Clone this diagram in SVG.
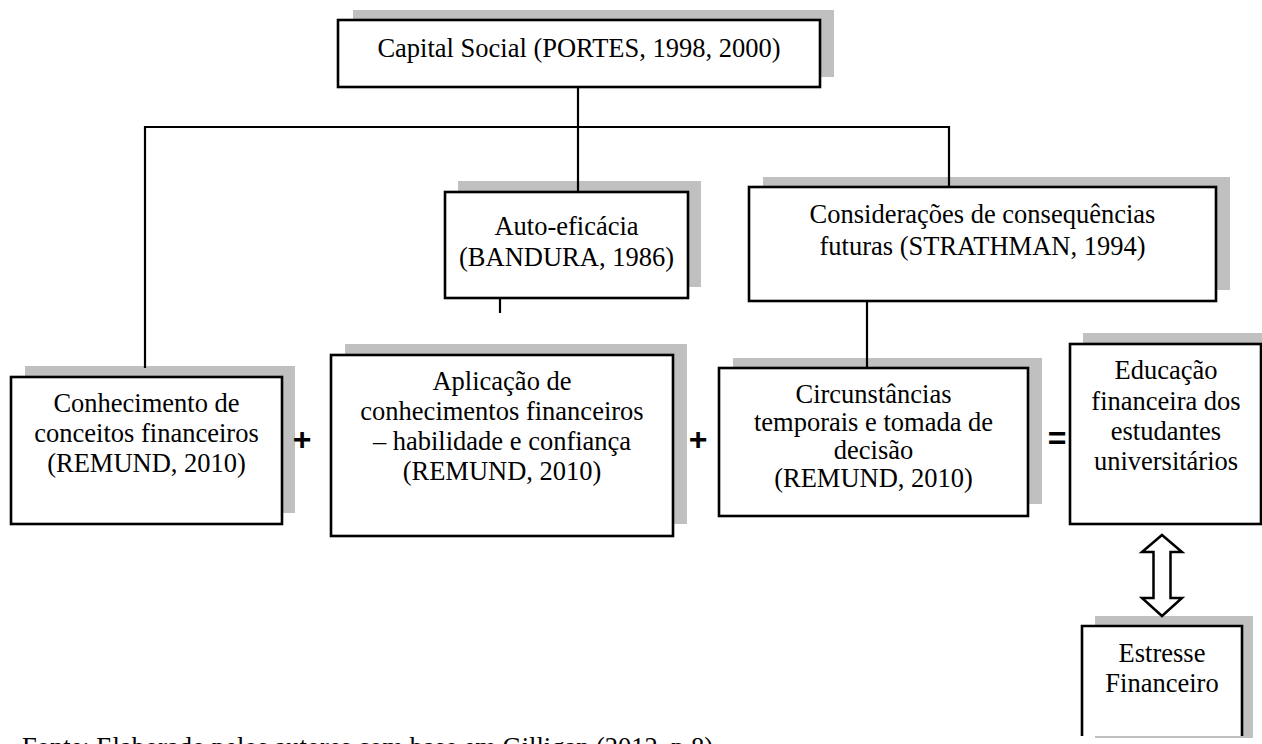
<svg xmlns="http://www.w3.org/2000/svg" width="1262" height="744" viewBox="0 0 1262 744">
<style>
.sh{fill:#c0c0c0;stroke:none}
.bx{fill:#fff;stroke:#000;stroke-width:2.6}
.t{font-family:'Liberation Serif',Tinos,'Times New Roman',Times,'DejaVu Serif',serif;font-size:26.5px;fill:#000;text-anchor:middle}
.op{font-family:'Liberation Sans',Arimo,Arial,sans-serif;font-size:32px;font-weight:bold;fill:#000;text-anchor:middle}
.cn{fill:none;stroke:#000;stroke-width:2.2}
</style>
<rect width="1262" height="744" fill="#fff"/>
<g id="capital">
<rect class="sh" x="353" y="10" width="481" height="67"/>
<rect class="bx" x="338" y="20" width="482" height="67"/>
<text class="t" x="579" y="57">Capital Social (PORTES, 1998, 2000)</text>
</g>
<g id="autoeficacia">
<rect class="sh" x="458" y="181" width="243" height="106"/>
<rect class="bx" x="445" y="192" width="243" height="106"/>
<text class="t" x="566.5" y="235">Auto-eficácia</text>
<text class="t" x="566.5" y="266">(BANDURA, 1986)</text>
</g>
<g id="consideracoes">
<rect class="sh" x="763" y="177" width="467" height="113"/>
<rect class="bx" x="749" y="187" width="467" height="114"/>
<text class="t" x="982.5" y="223">Considerações de consequências</text>
<text class="t" x="982.5" y="255">futuras (STRATHMAN, 1994)</text>
</g>
<g id="conhecimento">
<rect class="sh" x="25" y="366" width="270" height="147"/>
<rect class="bx" x="11" y="377" width="271" height="147"/>
<text class="t" x="146.5" y="412">Conhecimento de</text>
<text class="t" x="146.5" y="442">conceitos financeiros</text>
<text class="t" x="146.5" y="472">(REMUND, 2010)</text>
</g>
<g id="aplicacao">
<rect class="sh" x="345" y="344" width="342" height="180"/>
<rect class="bx" x="331" y="355" width="342" height="181"/>
<text class="t" x="502" y="390">Aplicação de</text>
<text class="t" x="502" y="420">conhecimentos financeiros</text>
<text class="t" x="502" y="450">– habilidade e confiança</text>
<text class="t" x="502" y="480">(REMUND, 2010)</text>
</g>
<g id="circunstancias">
<rect class="sh" x="733" y="358" width="309" height="146"/>
<rect class="bx" x="719" y="368" width="309" height="148"/>
<text class="t" x="873.5" y="403">Circunstâncias</text>
<text class="t" x="873.5" y="431">temporais e tomada de</text>
<text class="t" x="873.5" y="459">decisão</text>
<text class="t" x="873.5" y="487">(REMUND, 2010)</text>
</g>
<g id="educacao">
<rect class="sh" x="1083" y="333" width="200" height="180"/>
<rect class="bx" x="1070" y="344" width="191" height="180"/>
<text class="t" x="1166" y="379">Educação</text>
<text class="t" x="1166" y="410">financeira dos</text>
<text class="t" x="1166" y="440">estudantes</text>
<text class="t" x="1166" y="470">universitários</text>
</g>
<g id="estresse">
<rect class="sh" x="1095" y="616" width="158" height="122"/>
<rect x="1082" y="626" width="160" height="110" fill="#fff"/>
<path class="cn" style="stroke-width:2.6" d="M1082,736 V626 H1242 V736"/>
<text class="t" x="1162" y="662">Estresse</text>
<text class="t" x="1162" y="692">Financeiro</text>
</g>
<g id="operators">
<text class="op" x="302" y="450">+</text>
<text class="op" x="698" y="450">+</text>
<text class="op" x="1057" y="449">=</text>
</g>
<g id="connectors">
<path class="cn" d="M578,87 V127"/>
<path class="cn" d="M145,127 H949"/>
<path class="cn" d="M145,126 V368"/>
<path class="cn" d="M578,127 V192"/>
<path class="cn" d="M949,126 V187"/>
<path class="cn" d="M500,298 V313"/>
<path class="cn" d="M867,301 V368"/>
<path fill="#fff" stroke="#000" stroke-width="2.5" stroke-linejoin="miter" d="M1162,535 L1182,552 L1170.5,552 L1170.5,598 L1182,598 L1162,616 L1142,598 L1153.5,598 L1153.5,552 L1142,552 Z"/>
</g>
<text class="t" style="text-anchor:start" x="22" y="756">Fonte: Elaborado pelos autores com base em Gilligan (2012, p.8).</text>
</svg>
